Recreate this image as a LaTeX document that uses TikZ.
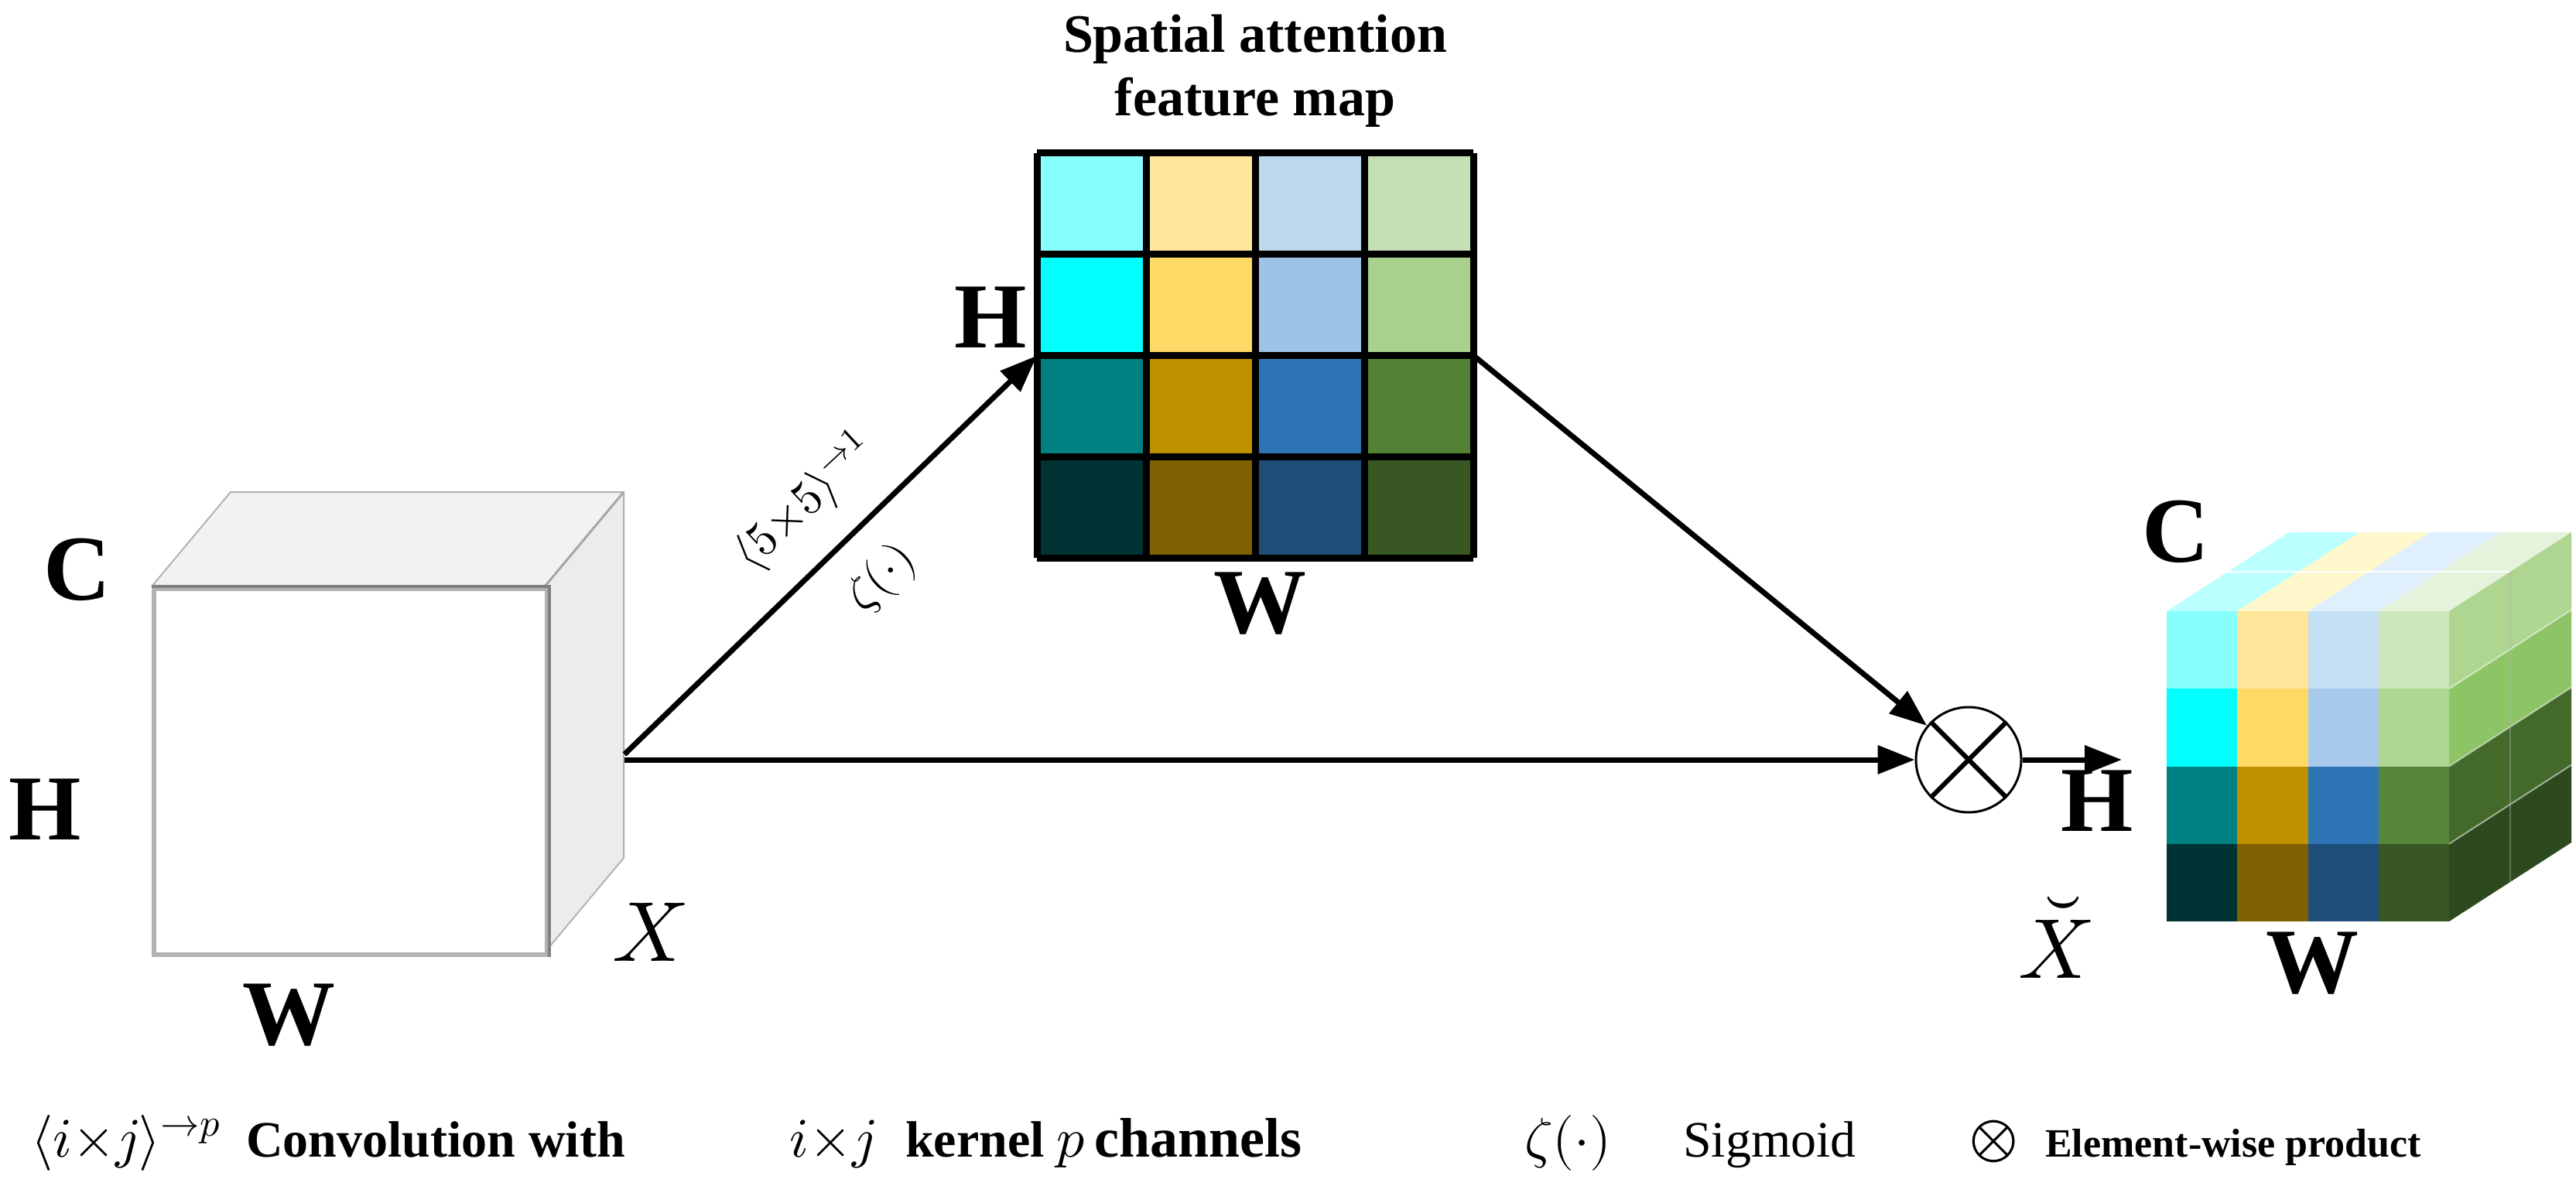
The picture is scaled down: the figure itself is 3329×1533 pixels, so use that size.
\documentclass[tikz,border=0pt]{standalone}
\usepackage{fontspec}
\usepackage{unicode-math}
\setmainfont{Liberation Serif}
\setmathfont{Latin Modern Math}
\usetikzlibrary{arrows.meta}
\begin{document}
\begin{tikzpicture}[x=1pt,y=-1pt,
  lab/.style={font=\fontsize{120}{130}\selectfont\bfseries, inner sep=0},
  leg/.style={font=\fontsize{66}{70}\selectfont\bfseries, inner sep=0, anchor=base west},
  conn/.style={line width=7pt,-{Triangle[length=48pt,width=36pt]}}]
\useasboundingbox (0,0) rectangle (3329,1533);
% ---- left cube X
\fill[gray!10] (196,758) -- (298,636) -- (806,636) -- (704,758) -- cycle;
\fill[gray!15] (704,758) -- (806,636) -- (806,1109) -- (704,1231) -- cycle;
\draw[gray!60, line width=2pt] (196,758) -- (298,636) -- (806,636) -- (806,1109) -- (704,1231);
\draw[gray!70, line width=3pt] (704,758) -- (806,636);
\node[draw=gray!60, line width=6pt, fill=white, minimum width=508pt, minimum height=473pt, inner sep=0, anchor=north west] (X) at (196,758) {};
\draw[gray, line width=4pt] (X.north west) -- (X.north east) -- (X.south east);
\node[lab] (C1) at (100,736) {C};
\node[lab] (H1) at (58,1046) {H};
\node[lab] (W1) at (373,1312) {W};
\node[font=\fontsize{110}{120}\selectfont, inner sep=0] (Xl) at (840,1205) {$X$};
\coordinate (xout) at (807,975);
\coordinate (xout2) at (807,982);
% ---- spatial attention map
\node[minimum width=564pt, minimum height=523pt, inner sep=0, anchor=north west] (map) at (1340,198) {};
\foreach \c [count=\i from 0] in {{88FFFF,00FFFF,008080,003333},{FFE699,FFD966,BF9000,7F6000},{BDD7EE,9DC3E6,2E75B6,1F4E79},{C5E0B4,A9D18E,548235,385723}}{
  \foreach \k [count=\j from 0] in \c {
    \definecolor{cc}{HTML}{\k}
    \fill[cc] (1340+141*\i,198+130.75*\j) rectangle ++(141,130.75);
  }}
\foreach \i in {0,...,4}{
  \draw[line width=9pt] (1340+141*\i,198) -- (1340+141*\i,721);
  \draw[line width=9pt] (1340,198+130.75*\i) -- (1904,198+130.75*\i);}
\node[font=\fontsize{70}{82}\selectfont\bfseries, align=center, inner sep=0] (title) at (1622,92) {Spatial attention\\feature map};
\node[lab] (H2) at (1280,410) {H};
\node[lab, anchor=north] (W2) at (1628,740) {W};
% ---- otimes
\node[draw, circle, line width=3pt, minimum size=136pt, inner sep=0] (ot) at (2544,982) {};
\draw[line width=6pt] (ot.north west) -- (ot.south east) (ot.north east) -- (ot.south west);
\coordinate (oute) at (2742,982);
% ---- connectors
\draw[conn] (xout) -- (map.west);
\draw[conn] (map.east) -- (ot);
\draw[conn] (xout2) -- (ot);
\draw[conn] (ot) -- (oute);
\node[font=\fontsize{62}{70}\selectfont, rotate=42.8, inner sep=0] (k55) at (1040,650) {$\langle 5{\times}5\rangle^{\to 1}$};
\node[font=\fontsize{62}{70}\selectfont, rotate=42.8, inner sep=0] (sig) at (1140,748) {$\zeta(\cdot)$};
\node[lab] (H3) at (2710,1035) {H};
% ---- output cube
\def\dx{158}\def\dy{-102}
\foreach \c [count=\i from 0] in {{88FFFF,00FFFF,008080,003333},{FFE699,FFD966,BF9000,7F6000},{C5DFF5,A6C9EC,2E75B6,1F4E79},{CCE8BC,AED690,578638,385723}}{
  \foreach \k [count=\j from 0] in \c {
    \definecolor{cc}{HTML}{\k}
    \fill[cc] (2800+91.25*\i,790+100.25*\j) rectangle ++(91.25,100.25);
  }}
\foreach \k [count=\i from 0] in {BBFFFF,FFF8CC,E0EFFC,E6F3DC}{
  \definecolor{cc}{HTML}{\k}
  \fill[cc] (2800+91.25*\i,790) -- ++(\dx,\dy) -- ++(91.25,0) -- ++(-\dx,-\dy) -- cycle;}
\draw[white, line width=2pt] (2800+0.5*\dx,790+0.5*\dy) -- ++(365,0);
\foreach \k [count=\j from 0] in {AED690,8DC566,436A2B,2D4A1E}{
  \definecolor{cc}{HTML}{\k}
  \fill[cc] (3165,790+100.25*\j) -- ++(\dx,\dy) -- ++(0,100.25) -- ++(-\dx,-\dy) -- cycle;}
\foreach \j in {1,2,3}{\draw[white, opacity=.5, line width=2pt] (3165,790+100.25*\j) -- ++(\dx,\dy);}
\draw[black!30, opacity=.4, line width=2pt] (3165+0.5*\dx,790+0.5*\dy) -- ++(0,401);
\node[minimum width=365pt, minimum height=401pt, inner sep=0, anchor=north west] (Y) at (2800,790) {};
\node[lab] (C3) at (2812,687) {C};
\node[lab, anchor=north] (W3) at (2988,1205) {W};
\node[font=\fontsize{110}{120}\selectfont, inner sep=0] (Yl) at (2657,1212) {$\breve{X}$};
% ---- legend
\node[leg] (l1) at (40,1495) {\fontsize{72}{80}\selectfont$\langle i{\times}j\rangle^{\to p}$};
\node[leg] (l2) at (318,1495) {Convolution with};
\node[leg] (l3) at (1020,1495) {\fontsize{72}{80}\selectfont$i{\times}j$};
\node[leg] (l4) at (1170,1495) {kernel};
\node[leg] (l5) at (1365,1495) {\fontsize{72}{80}\selectfont$p$\,channels};
\node[leg] (l6) at (1970,1495) {\fontsize{72}{80}\selectfont$\zeta(\cdot)$};
\node[leg, font=\fontsize{66}{70}\selectfont] (l7) at (2175,1495) {Sigmoid};
\node[leg] (l8) at (2545,1495) {\fontsize{80}{80}\selectfont$\otimes$};
\node[leg, font=\fontsize{52}{60}\selectfont\bfseries] (l9) at (2643,1495) {Element-wise product};
\end{tikzpicture}
\end{document}
